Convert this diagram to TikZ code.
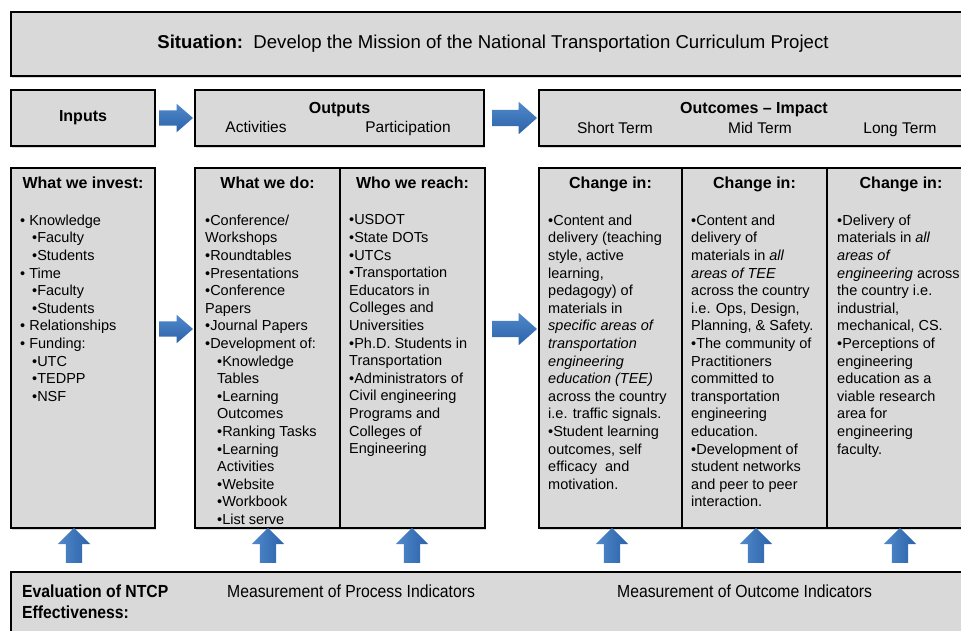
\documentclass[tikz,border=0pt]{standalone}
\usepackage{fontspec}
\setmainfont{Liberation Sans}
\newfontfamily\narrowsans[FakeStretch=0.9]{Liberation Sans}
\usetikzlibrary{positioning, shapes.arrows, shadows}
\definecolor{panelgray}{HTML}{D9D9D9}
\definecolor{arrowlight}{HTML}{5089CB}
\definecolor{arrowdark}{HTML}{2C62A9}
\tikzset{
  panel/.style={rectangle, draw=black, line width=1.6pt, fill=panelgray, outer sep=0pt, inner sep=0pt, drop shadow={shadow xshift=1pt, shadow yshift=-2pt, opacity=0.3}},
  head/.style={font=\fontsize{16}{19}\selectfont\bfseries, inner sep=0pt, text height=11.6pt},
  body/.style={font=\fontsize{14.5}{17.6}\selectfont, align=left, inner sep=0pt},
  rowlabel/.style={font=\fontsize{15.5}{18}\selectfont, inner sep=0pt, anchor=base},
  rowtitle/.style={rowlabel, font=\fontsize{16}{19}\selectfont\bfseries},
  evaltext/.style={font=\narrowsans\fontsize{17.5}{21}\selectfont, inner sep=0pt, align=left},
  blockarrow/.style={single arrow, draw=none, outer sep=0pt, top color=arrowlight, bottom color=arrowdark},
  smallarrow/.style={blockarrow, inner sep=7.5pt, minimum height=34pt, single arrow head extend=6.5pt, single arrow tip angle=82},
  bigarrow/.style={blockarrow, inner sep=8pt, minimum height=45pt, single arrow head extend=8pt, single arrow tip angle=83},
  uparrow/.style={single arrow, draw=none, inner sep=8pt, left color=arrowlight, right color=arrowdark, shape border rotate=90, minimum height=35pt, single arrow head extend=8pt, single arrow tip angle=90},
}

\begin{document}
\begin{tikzpicture}[x=1pt, y=-1pt]
  \clip (0,0) rectangle (961,630);

  % situation banner
  \node[panel, minimum width=964pt, minimum height=64pt, anchor=north west, font=\fontsize{18.6}{22}\selectfont] (situation) at (11,12)
    {\textbf{Situation:}\ \ Develop the Mission of the National Transportation Curriculum Project};

  % first row: inputs, outputs, outcomes
  \node[panel, minimum width=144pt, minimum height=56pt, below right=14pt and 0pt of situation.south west, font=\fontsize{16}{19}\selectfont\bfseries] (inputs) {Inputs};
  \node[panel, minimum width=289pt, minimum height=56pt, right=40pt of inputs] (outputs) {};
  \node[panel, minimum width=436pt, minimum height=56pt, right=55pt of outputs] (outcomes) {};
  \node[rowtitle] (outputstitle) at (339.5,113.8) {Outputs};
  \node[rowlabel] (activities) at (256,132.5) {Activities};
  \node[rowlabel] (participation) at (408,132.5) {Participation};
  \node[rowtitle] (outcomestitle) at (754,113.8) {Outcomes -- Impact};
  \node[rowlabel] (shortterm) at (615,133) {Short Term};
  \node[rowlabel] (midterm) at (760,133) {Mid Term};
  \node[rowlabel] (longterm) at (900,133) {Long Term};
  \node[smallarrow, right=4pt of inputs] (inarrow) {};
  \node[bigarrow, right=8pt of outputs] (outarrow) {};

  % second row: columns
  \node[panel, minimum width=144pt, minimum height=360pt, below=22pt of inputs] (invest) {};
  \node[panel, minimum width=145pt, minimum height=360pt, right=40pt of invest] (do) {};
  \node[panel, minimum width=145pt, minimum height=360pt, right=0pt of do] (reach) {};
  \node[panel, minimum width=143pt, minimum height=360pt, right=54pt of reach] (short) {};
  \node[panel, minimum width=145pt, minimum height=360pt, right=0pt of short] (mid) {};
  \node[panel, minimum width=148pt, minimum height=360pt, right=0pt of mid] (long) {};
  \node[smallarrow, right=4pt of invest, yshift=19pt] (investarrow) {};
  \node[bigarrow, right=7pt of reach, yshift=19pt] (reacharrow) {};

  \node[head, below=9pt of invest.north] (investhead) {What we invest:};
  \node[head, below=9pt of do.north] (dohead) {What we do:};
  \node[head, below=9pt of reach.north] (reachhead) {Who we reach:};
  \node[head, below=9pt of short.north] (shorthead) {Change in:};
  \node[head, below=9pt of mid.north] (midhead) {Change in:};
  \node[head, below=9pt of long.north] (longhead) {Change in:};

  \node[body, below right=46.5pt and 9pt of invest.north west] (investtext) {%
    • Knowledge\\ \hspace*{12pt}•Faculty\\ \hspace*{12pt}•Students\\
    • Time\\ \hspace*{12pt}•Faculty\\ \hspace*{12pt}•Students\\
    • Relationships\\ • Funding:\\
    \hspace*{12pt}•UTC\\ \hspace*{12pt}•TEDPP\\ \hspace*{12pt}•NSF};
  \node[body, below right=46.5pt and 10pt of do.north west] (dotext) {%
    •Conference/\\ Workshops\\ •Roundtables\\ •Presentations\\
    •Conference\\ Papers\\ •Journal Papers\\ •Development of:\\
    \hspace*{12pt}•Knowledge\\ \hspace*{12pt}Tables\\
    \hspace*{12pt}•Learning\\ \hspace*{12pt}Outcomes\\
    \hspace*{12pt}•Ranking Tasks\\
    \hspace*{12pt}•Learning\\ \hspace*{12pt}Activities\\
    \hspace*{12pt}•Website\\ \hspace*{12pt}•Workbook\\ \hspace*{12pt}•List serve};
  \node[body, below right=46.5pt and 9pt of reach.north west] (reachtext) {%
    •USDOT\\ •State DOTs\\ •UTCs\\ •Transportation\\ Educators in\\
    Colleges and\\ Universities\\ •Ph.D. Students in\\ Transportation\\
    •Administrators of\\ Civil engineering\\ Programs and\\ Colleges of\\ Engineering};
  \node[body, below right=46.5pt and 9pt of short.north west] (shorttext) {%
    •Content and\\ delivery (teaching\\ style, active\\ learning,\\
    pedagogy) of\\ materials in\\ \textit{specific areas of}\\
    \textit{transportation}\\ \textit{engineering}\\ \textit{education (TEE)}\\
    across the country\\ i.e. traffic signals.\\ •Student learning\\
    outcomes, self\\ efficacy~ and\\ motivation.};
  \node[body, below right=46.5pt and 9pt of mid.north west] (midtext) {%
    •Content and\\ delivery of\\ materials in \textit{all}\\ \textit{areas of TEE}\\
    across the country\\ i.e. Ops, Design,\\ Planning, \& Safety.\\
    •The community of\\ Practitioners\\ committed to\\ transportation\\
    engineering\\ education.\\ •Development of\\ student networks\\
    and peer to peer\\ interaction.};
  \node[body, below right=46.5pt and 10pt of long.north west] (longtext) {%
    •Delivery of\\ materials in \textit{all}\\ \textit{areas of}\\
    \textit{engineering} across\\ the country i.e.\\ industrial,\\
    mechanical, CS.\\ •Perceptions of\\ engineering\\ education as a\\
    viable research\\ area for\\ engineering\\ faculty.};

  % evaluation strip and its arrows
  \node[panel, minimum width=964pt, minimum height=90pt, below right=44pt and 0pt of invest.south west] (evaluation) {};
  \foreach \x/\n in {74/1, 268/2, 412/3, 612/4, 756/5, 900/6}
    \node[uparrow] (up\n) at (\x,549.5) {};
  \node[evaltext, anchor=north west, font=\narrowsans\bfseries\fontsize{17.5}{21}\selectfont] (evaltitle) at (22,584.2)
    {Evaluation of NTCP\\ Effectiveness:};
  \node[evaltext, anchor=base west] (process) at (227,597) {Measurement of Process Indicators};
  \node[evaltext, anchor=base west] (outcome) at (617,597) {Measurement of Outcome Indicators};
\end{tikzpicture}
\end{document}
